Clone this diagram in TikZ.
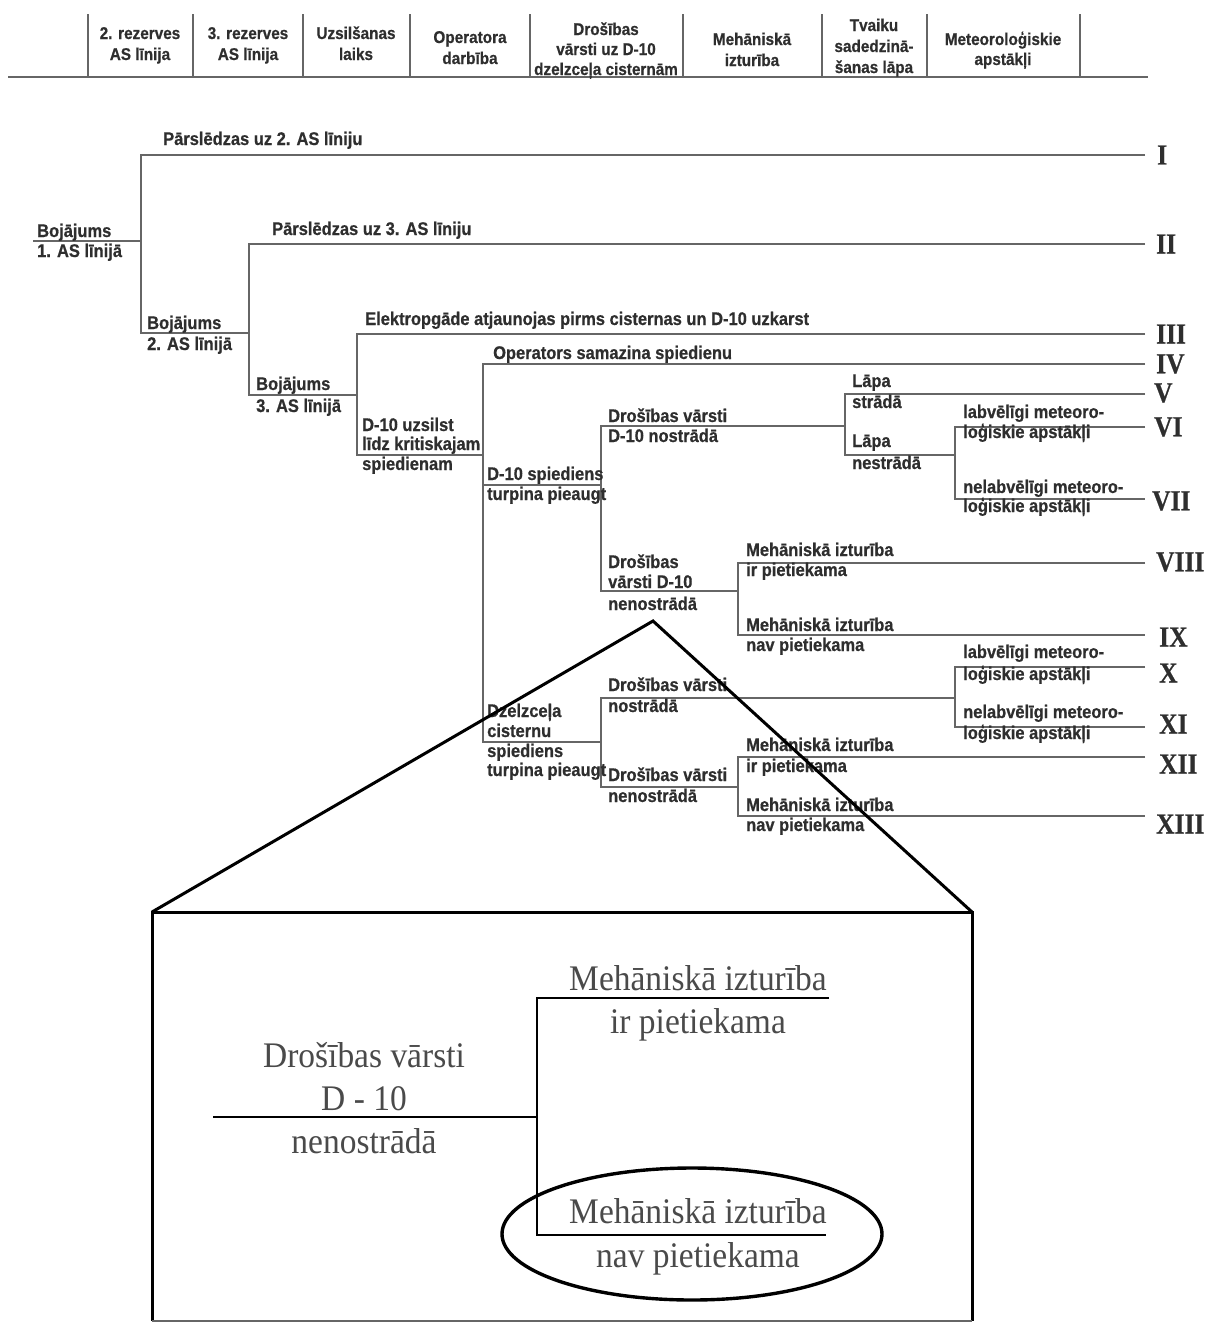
\documentclass[tikz,border=0pt]{standalone}
\usepackage{fontspec}
\setmainfont{Liberation Sans}
\newfontfamily\labelfam[FakeStretch=0.9, FakeBold=0.6]{Liberation Sans Bold}
\newfontfamily\romanfam[FakeStretch=0.88, FakeBold=0.5]{Liberation Serif Bold}
\newfontfamily\zoomfam[FakeStretch=0.93]{Liberation Serif}
\definecolor{inkgray}{HTML}{2E2E2E}
\definecolor{rulegray}{HTML}{666666}
\definecolor{softgray}{HTML}{4A4A4A}
\newcommand{\lblfont}{\labelfam\fontsize{18.3}{20}\selectfont}
\newcommand{\hdrfont}{\labelfam\fontsize{17}{20}\selectfont}
\newcommand{\numfont}{\romanfam\fontsize{29}{29}\selectfont}
\newcommand{\bigfont}{\zoomfam\fontsize{36}{40}\selectfont}
\tikzset{
  lbl/.style={font=\lblfont, text=inkgray, inner sep=0pt, anchor=base west},
  hdr/.style={font=\hdrfont, text=inkgray, inner sep=0pt, anchor=base},
  numeral/.style={font=\numfont, text=inkgray, inner sep=0pt, anchor=west},
  branch/.style={draw=rulegray, line width=1.6pt},
  rulez/.style={draw=rulegray, line width=1.5pt},
  magnify/.style={draw=black, line width=3pt},
  detail/.style={draw=black, line width=2.6pt},
  big/.style={font=\bigfont, text=softgray, inner sep=0pt, anchor=base},
}
\begin{document}
\begin{tikzpicture}[x=1pt,y=-1pt]
\fill[white] (0,0) rectangle (1209,1323);
\useasboundingbox (0,0) rectangle (1209,1323);

% ---------- column header ----------
\draw[rulez] (8,77) -- (1148,77);
\foreach \cx in {88,193,303,410,530,683,822,927,1080}
  \draw[rulez] (\cx,14) -- (\cx,77);
\node[hdr] (h1a) at (140,39) {2. rezerves};
\node[hdr] (h1b) at (140,60) {AS līnija};
\node[hdr] (h2a) at (248,39) {3. rezerves};
\node[hdr] (h2b) at (248,60) {AS līnija};
\node[hdr] (h3a) at (356,39) {Uzsilšanas};
\node[hdr] (h3b) at (356,60) {laiks};
\node[hdr] (h4a) at (470,43) {Operatora};
\node[hdr] (h4b) at (470,64) {darbība};
\node[hdr] (h5a) at (606,35) {Drošības};
\node[hdr] (h5b) at (606,55) {vārsti uz D-10};
\node[hdr] (h5c) at (606,75) {dzelzceļa cisternām};
\node[hdr] (h6a) at (752,45) {Mehāniskā};
\node[hdr] (h6b) at (752,66) {izturība};
\node[hdr] (h7a) at (874,31) {Tvaiku};
\node[hdr] (h7b) at (874,52) {sadedzinā-};
\node[hdr] (h7c) at (874,73) {šanas lāpa};
\node[hdr] (h8a) at (1003,45) {Meteoroloģiskie};
\node[hdr] (h8b) at (1003,65) {apstākļi};

% ---------- branch points and outcome ends ----------
\coordinate (root) at (33,241);
\coordinate (s1) at (141,241);  \coordinate (s1t) at (141,155);  \coordinate (s1b) at (141,333);
\coordinate (s2) at (249,333);  \coordinate (s2t) at (249,244);  \coordinate (s2b) at (249,395);
\coordinate (s3) at (357,395);  \coordinate (s3t) at (357,334);  \coordinate (s3b) at (357,455);
\coordinate (s4) at (483,455);  \coordinate (s4t) at (483,364);  \coordinate (s4m) at (483,485);  \coordinate (s4b) at (483,742);
\coordinate (s5) at (601,485);  \coordinate (s5t) at (601,426);  \coordinate (s5b) at (601,591);
\coordinate (s6) at (845,426);  \coordinate (s6t) at (845,394);  \coordinate (s6b) at (845,455);
\coordinate (s7) at (955,455);  \coordinate (s7t) at (955,427);  \coordinate (s7b) at (955,499);
\coordinate (s8) at (738,591);  \coordinate (s8t) at (738,563);  \coordinate (s8b) at (738,635);
\coordinate (s9) at (601,742);  \coordinate (s9t) at (601,698);  \coordinate (s9b) at (601,787);
\coordinate (s10) at (955,698); \coordinate (s10t) at (955,667); \coordinate (s10b) at (955,727);
\coordinate (s11) at (738,787); \coordinate (s11t) at (738,757); \coordinate (s11b) at (738,816);

\coordinate (eI) at (1145,155);    \coordinate (eII) at (1145,244);
\coordinate (eIII) at (1145,334);  \coordinate (eIV) at (1145,364);
\coordinate (eV) at (1145,394);    \coordinate (eVI) at (1145,427);
\coordinate (eVII) at (1145,499);  \coordinate (eVIII) at (1145,563);
\coordinate (eIX) at (1145,635);   \coordinate (eX) at (1145,667);
\coordinate (eXI) at (1145,727);   \coordinate (eXII) at (1145,757);
\coordinate (eXIII) at (1145,816);

% ---------- event tree ----------
\draw[branch] (root) -- (s1);
\draw[branch] (eI) -- (s1t) -- (s1b) -- (s2);
\draw[branch] (eII) -- (s2t) -- (s2b) -- (s3);
\draw[branch] (eIII) -- (s3t) -- (s3b) -- (s4);
\draw[branch] (eIV) -- (s4t) -- (s4b) -- (s9);
\draw[branch] (s4m) -- (s5);
\draw[branch] (s6) -- (s5t) -- (s5b) -- (s8);
\draw[branch] (eV) -- (s6t) -- (s6b) -- (s7);
\draw[branch] (eVI) -- (s7t) -- (s7b) -- (eVII);
\draw[branch] (eVIII) -- (s8t) -- (s8b) -- (eIX);
\draw[branch] (s10) -- (s9t) -- (s9b) -- (s11);
\draw[branch] (eX) -- (s10t) -- (s10b) -- (eXI);
\draw[branch] (eXII) -- (s11t) -- (s11b) -- (eXIII);

% ---------- branch labels ----------
\node[lbl] (t1a) at (37,237) {Bojājums};
\node[lbl] (t1b) at (37,257) {1. AS līnijā};
\node[lbl] (t2) at (163,145) {Pārslēdzas uz 2. AS līniju};
\node[lbl] (t3a) at (147,329) {Bojājums};
\node[lbl] (t3b) at (147,350) {2. AS līnijā};
\node[lbl] (t4) at (272,235) {Pārslēdzas uz 3. AS līniju};
\node[lbl] (t5a) at (256,390) {Bojājums};
\node[lbl] (t5b) at (256,412) {3. AS līnijā};
\node[lbl] (t6) at (365,325) {Elektropgāde atjaunojas pirms cisternas un D-10 uzkarst};
\node[lbl] (t7a) at (362,431) {D-10 uzsilst};
\node[lbl] (t7b) at (362,450) {līdz kritiskajam};
\node[lbl] (t7c) at (362,470) {spiedienam};
\node[lbl] (t8) at (493,359) {Operators samazina spiedienu};
\node[lbl] (t9a) at (487,480) {D-10 spiediens};
\node[lbl] (t9b) at (487,500) {turpina pieaugt};
\node[lbl] (t10a) at (608,422) {Drošības vārsti};
\node[lbl] (t10b) at (608,442) {D-10 nostrādā};
\node[lbl] (t11a) at (852,387) {Lāpa};
\node[lbl] (t11b) at (852,408) {strādā};
\node[lbl] (t12a) at (852,447) {Lāpa};
\node[lbl] (t12b) at (852,469) {nestrādā};
\node[lbl] (t13a) at (963,418) {labvēlīgi meteoro-};
\node[lbl] (t13b) at (963,438) {loģiskie apstākļi};
\node[lbl] (t14a) at (963,493) {nelabvēlīgi meteoro-};
\node[lbl] (t14b) at (963,512) {loģiskie apstākļi};
\node[lbl] (t15a) at (608,568) {Drošības};
\node[lbl] (t15b) at (608,588) {vārsti D-10};
\node[lbl] (t15c) at (608,610) {nenostrādā};
\node[lbl] (t16a) at (746,556) {Mehāniskā izturība};
\node[lbl] (t16b) at (746,576) {ir pietiekama};
\node[lbl] (t17a) at (746,631) {Mehāniskā izturība};
\node[lbl] (t17b) at (746,651) {nav pietiekama};
\node[lbl] (t18a) at (487,717) {Dzelzceļa};
\node[lbl] (t18b) at (487,737) {cisternu};
\node[lbl] (t18c) at (487,757) {spiediens};
\node[lbl] (t18d) at (487,776) {turpina pieaugt};
\node[lbl] (t19a) at (608,691) {Drošības vārsti};
\node[lbl] (t19b) at (608,712) {nostrādā};
\node[lbl] (t20a) at (963,658) {labvēlīgi meteoro-};
\node[lbl] (t20b) at (963,680) {loģiskie apstākļi};
\node[lbl] (t21a) at (963,718) {nelabvēlīgi meteoro-};
\node[lbl] (t21b) at (963,739) {loģiskie apstākļi};
\node[lbl] (t22a) at (608,781) {Drošības vārsti};
\node[lbl] (t22b) at (608,802) {nenostrādā};
\node[lbl] (t23a) at (746,751) {Mehāniskā izturība};
\node[lbl] (t23b) at (746,772) {ir pietiekama};
\node[lbl] (t24a) at (746,811) {Mehāniskā izturība};
\node[lbl] (t24b) at (746,831) {nav pietiekama};

% ---------- outcome numbers ----------
\node[numeral] (nI) at (1157,155) {I};
\node[numeral] (nII) at (1156,244) {II};
\node[numeral] (nIII) at (1156,334) {III};
\node[numeral] (nIV) at (1156,364) {IV};
\node[numeral] (nV) at (1154,393) {V};
\node[numeral] (nVI) at (1154,427) {VI};
\node[numeral] (nVII) at (1152,501) {VII};
\node[numeral] (nVIII) at (1156,562) {VIII};
\node[numeral] (nIX) at (1159,637) {IX};
\node[numeral] (nX) at (1159,673) {X};
\node[numeral] (nXI) at (1159,724) {XI};
\node[numeral] (nXII) at (1159,764) {XII};
\node[numeral] (nXIII) at (1156,824) {XIII};

% ---------- enlarged view of one branch ----------
\coordinate (apex) at (653,621);
\coordinate (boxnw) at (152,912);
\coordinate (boxne) at (972,912);
\coordinate (boxsw) at (152,1321);
\coordinate (boxse) at (972,1321);
\draw[magnify] (boxnw) -- (apex) -- (boxne);
\draw[magnify] (boxsw) -- (boxnw) -- (boxne) -- (boxse);
\draw[draw=rulegray, line width=2pt] (boxsw) -- (boxse);

\coordinate (zin) at (213,1117);
\coordinate (zs) at (537,1117);
\coordinate (zst) at (537,998);
\coordinate (zsb) at (537,1235);
\coordinate (zet) at (829,998);
\coordinate (zeb) at (826,1235);
\draw[detail] (zin) -- (zs);
\draw[detail] (zet) -- (zst) -- (zsb) -- (zeb);

\node[big] (za) at (364,1067) {Drošības vārsti};
\node[big] (zb) at (364,1110) {D - 10};
\node[big] (zc) at (364,1153) {nenostrādā};
\node[big] (zd) at (698,990) {Mehāniskā izturība};
\node[big] (ze) at (698,1033) {ir pietiekama};
\node[big] (zf) at (698,1223) {Mehāniskā izturība};
\node[big] (zg) at (698,1267) {nav pietiekama};
\draw[black, line width=3.4pt] (692,1234) ellipse [x radius=190, y radius=66];
\end{tikzpicture}
\end{document}
